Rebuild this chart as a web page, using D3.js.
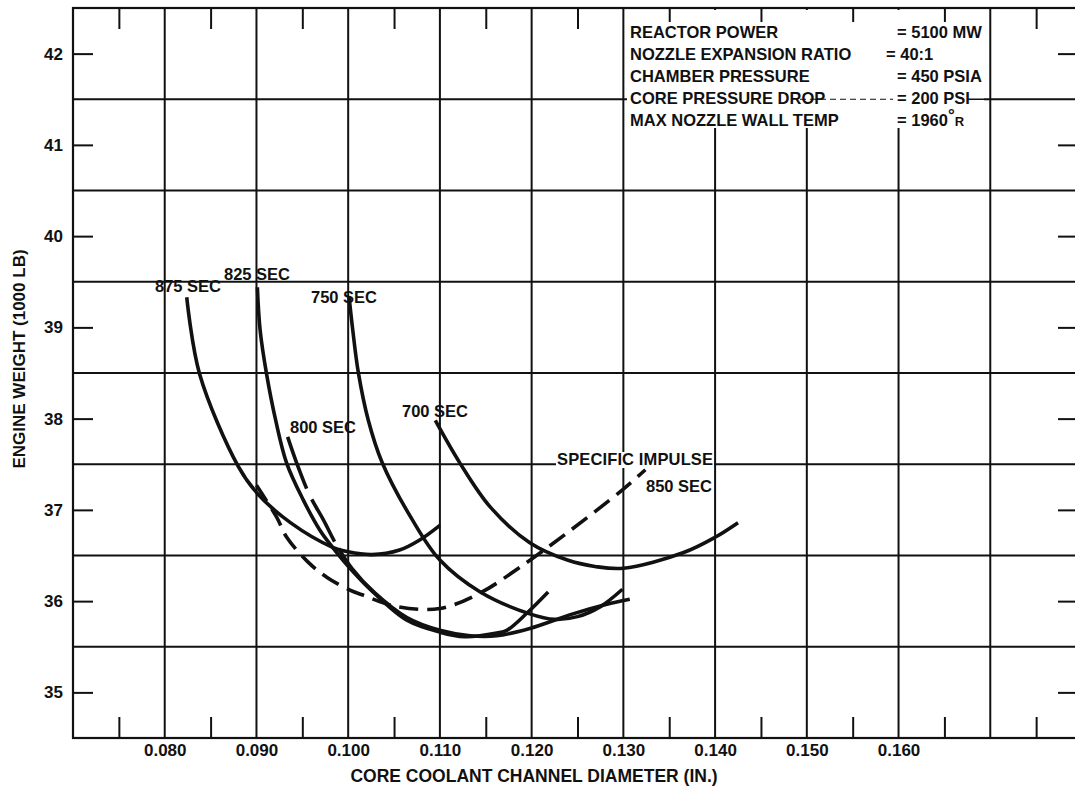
<!DOCTYPE html>
<html>
<head>
<meta charset="utf-8">
<script src="https://cdn.jsdelivr.net/npm/d3@7"></script>
<style>
  html, body { margin: 0; padding: 0; background: #fff; }
  svg { display: block; }
  text { font-family: "Liberation Sans", Arial, sans-serif; fill: #111; font-weight: bold; }
</style>
</head>
<body>
<svg id="chart" width="1075" height="789"></svg>
<script>
// ---- data ----
const xTickValues = [0.080, 0.090, 0.100, 0.110, 0.120, 0.130, 0.140, 0.150, 0.160];
const xTickLabels = ["0.080", "0.090", "0.100", "0.110", "0.120", "0.130", "0.140", "0.150", "0.160"];
const xGridValues = [0.080, 0.090, 0.100, 0.110, 0.120, 0.130, 0.140, 0.150, 0.160, 0.170];
const xMinorTicks = [0.075, 0.085, 0.095, 0.105, 0.115, 0.125, 0.135, 0.145, 0.155, 0.165, 0.175];
const yTickValues = [35, 36, 37, 38, 39, 40, 41, 42];
const yGridValues = [35.5, 36.5, 37.5, 38.5, 39.5, 40.5, 41.5];

// core coolant channel diameter (in.) / engine weight (1000 lb)
const d875 = [0.0824, 0.0838, 0.0880, 0.0901, 0.0937, 0.0983, 0.1000, 0.1026, 0.1056, 0.1078, 0.1100];
const w875 = [39.33, 38.49, 37.48, 37.18, 36.86, 36.59, 36.54, 36.51, 36.56, 36.67, 36.83];

const d825 = [0.0901, 0.0904, 0.0911, 0.0921, 0.0933, 0.0951, 0.0969, 0.0983, 0.1002, 0.1027, 0.1064, 0.1100, 0.1127, 0.1162, 0.1173, 0.1195, 0.1218];
const w825 = [39.44, 38.97, 38.49, 37.98, 37.51, 37.11, 36.78, 36.59, 36.36, 36.10, 35.79, 35.66, 35.61, 35.65, 35.68, 35.87, 36.10];

const d800 = [0.0934, 0.0944, 0.0958, 0.0973, 0.0987, 0.1004, 0.1029, 0.1064, 0.1100, 0.1133, 0.1162, 0.1198, 0.1245, 0.1280, 0.1307];
const w800 = [37.80, 37.51, 37.16, 36.89, 36.62, 36.36, 36.09, 35.82, 35.68, 35.62, 35.62, 35.70, 35.86, 35.96, 36.02];

const d750 = [0.1001, 0.1005, 0.1011, 0.1022, 0.1037, 0.1070, 0.1100, 0.1144, 0.1198, 0.1225, 0.1250, 0.1275, 0.1299];
const w750 = [39.33, 38.97, 38.51, 37.98, 37.52, 36.89, 36.45, 36.10, 35.86, 35.80, 35.83, 35.94, 36.13];

const d700 = [0.1095, 0.1122, 0.1155, 0.1198, 0.1239, 0.1269, 0.1300, 0.1365, 0.1400, 0.1425];
const w700 = [37.98, 37.51, 37.03, 36.64, 36.45, 36.38, 36.36, 36.53, 36.70, 36.86];

const d850 = [0.0900, 0.0922, 0.0933, 0.0956, 0.0977, 0.1002, 0.1015, 0.1053, 0.1100, 0.1144, 0.1187, 0.1239, 0.1299, 0.1324];
const w850 = [37.27, 36.92, 36.70, 36.43, 36.26, 36.12, 36.07, 35.94, 35.92, 36.09, 36.37, 36.75, 37.22, 37.44];

const curveLabels = ["875 SEC", "825 SEC", "750 SEC", "800 SEC", "700 SEC", "SPECIFIC IMPULSE", "850 SEC"];

const notesLeft = ["REACTOR POWER", "NOZZLE EXPANSION RATIO", "CHAMBER PRESSURE", "CORE PRESSURE DROP", "MAX NOZZLE WALL TEMP"];
const notesRight = ["= 5100 MW", "= 40:1", "= 450 PSIA", "= 200 PSI", "= 1960"];

const xTitle = "CORE COOLANT CHANNEL DIAMETER (IN.)";
const yTitle = "ENGINE WEIGHT (1000 LB)";

// ---- drawing ----
const svg = d3.select("#chart");
const x = d3.scaleLinear().domain([0.070, 0.180]).range([73, 1082]);
const y = d3.scaleLinear().domain([34.5, 42.5]).range([738, 8]);
const X0 = x(0.070), X1 = x(0.180), Y0 = y(34.5), Y1 = y(42.5);
const ink = "#111";
const FONT = "Liberation Sans, Arial, sans-serif";

// grid
const g = svg.append("g");
g.selectAll("line.vg").data(xGridValues).join("line")
  .attr("x1", d => x(d)).attr("x2", d => x(d)).attr("y1", Y1).attr("y2", Y0)
  .attr("stroke", ink).attr("stroke-width", 2);
g.selectAll("line.hg").data(yGridValues).join("line")
  .attr("x1", X0).attr("x2", X1).attr("y1", d => y(d)).attr("y2", d => y(d))
  .attr("stroke", ink).attr("stroke-width", 2);

// frame
g.append("rect").attr("x", X0).attr("y", Y1).attr("width", X1 - X0).attr("height", Y0 - Y1)
  .attr("fill", "none").attr("stroke", ink).attr("stroke-width", 2.2);

// axes via d3 axis generators (ticks pointing inward)
const axB = d3.axisBottom(x).tickValues(xTickValues).tickSize(0).tickPadding(6)
  .tickFormat((d, i) => xTickLabels[i]);
const gb = svg.append("g").attr("transform", `translate(0,${Y0})`).call(axB);
gb.select(".domain").remove();
gb.selectAll("text").attr("font-size", 17).attr("fill", ink).attr("font-weight", "bold")
  .attr("font-family", FONT);

const axBm = d3.axisTop(x).tickValues(xMinorTicks).tickSize(21).tickFormat("");
const gbm = svg.append("g").attr("transform", `translate(0,${Y0})`).call(axBm);
gbm.select(".domain").remove();
gbm.selectAll("line").attr("stroke", ink).attr("stroke-width", 2);

const axL = d3.axisRight(y).tickValues(yTickValues).tickSize(20).tickFormat(d3.format("d"));
const gl = svg.append("g").attr("transform", `translate(${X0},0)`).call(axL);
gl.select(".domain").remove();
gl.selectAll("line").attr("stroke", ink).attr("stroke-width", 2);
gl.selectAll("text").attr("x", -10).attr("text-anchor", "end").attr("font-size", 17)
  .attr("fill", ink).attr("font-weight", "bold").attr("font-family", FONT);

const axR = d3.axisLeft(y).tickValues(yTickValues).tickSize(20).tickFormat("");
const gr = svg.append("g").attr("transform", `translate(${X1 - 4},0)`).call(axR);
gr.select(".domain").remove();
gr.selectAll("line").attr("stroke", ink).attr("stroke-width", 2);

// notes box (masks the grid behind)
svg.append("rect").attr("x", 627).attr("y", 10).attr("width", 357).attr("height", 118).attr("fill", "#fff");
svg.append("line").attr("x1", 800).attr("x2", 893).attr("y1", y(41.5)).attr("y2", y(41.5))
  .attr("stroke", ink).attr("stroke-width", 1.2).attr("stroke-dasharray", "6,4");
svg.append("line").attr("x1", 968).attr("x2", 984).attr("y1", y(41.5)).attr("y2", y(41.5))
  .attr("stroke", ink).attr("stroke-width", 1.5);

// top ticks (shorter where they sit above the notes)
const axTm = d3.axisBottom(x).tickValues(xMinorTicks).tickSize(21).tickFormat("");
const gtm = svg.append("g").attr("transform", `translate(0,${Y1})`).call(axTm);
gtm.select(".domain").remove();
gtm.selectAll("line").attr("stroke", ink).attr("stroke-width", 2)
  .attr("y2", d => (d > 0.13 && d < 0.17) ? 14 : 21);

const notes = svg.append("g").attr("font-size", 16.5);
const noteBase = [38, 60, 82, 104, 126];
notesLeft.forEach((t, i) => {
  notes.append("text").attr("x", 630).attr("y", noteBase[i]).text(t);
});
notesRight.forEach((t, i) => {
  const tx = notes.append("text").attr("x", i === 1 ? 886 : 897).attr("y", noteBase[i]).text(t);
  if (i === 4) {
    tx.append("tspan").attr("font-size", 17).attr("dy", -5).text("°");
    tx.append("tspan").attr("font-size", 13).attr("dy", 5).text("R");
  }
});

// curves
const line = d3.line().x(p => x(p[0])).y(p => y(p[1])).curve(d3.curveCatmullRom.alpha(0.5));
const zip = (a, b) => a.map((v, i) => [v, b[i]]);
const series = [
  { pts: zip(d875, w875), dash: null },
  { pts: zip(d825, w825), dash: null },
  { pts: zip(d800, w800), dash: "55,12,48,8,4000" },
  { pts: zip(d750, w750), dash: null },
  { pts: zip(d700, w700), dash: null },
  { pts: zip(d850, w850), dash: "19,9" }
];
svg.append("g").selectAll("path").data(series).join("path")
  .attr("d", s => line(s.pts))
  .attr("fill", "none").attr("stroke", ink).attr("stroke-width", 3.6)
  .attr("stroke-linecap", "butt")
  .attr("stroke-dasharray", s => s.dash);

// curve labels
const labelPos = [
  [155, 292], [224, 280], [311, 303], [290, 433],
  [402, 417], [557, 465], [646, 492]
];
const lg = svg.append("g").attr("font-size", 16.5);
curveLabels.forEach((t, i) => {
  const p = labelPos[i];
  const tx = lg.append("text").attr("x", p[0]).attr("y", p[1]).text(t);
  if (i === 5) tx.attr("textLength", 156);
  if (i === 5) {
    const bb = tx.node().getBBox();
    lg.insert("rect", "text").attr("x", bb.x - 1).attr("y", bb.y + 2).attr("width", bb.width + 2)
      .attr("height", bb.height - 2).attr("fill", "#fff").attr("stroke", "none");
  }
});

// axis titles
svg.append("text").attr("x", 534).attr("y", 782).attr("text-anchor", "middle")
  .attr("font-size", 17.5).text(xTitle);
svg.append("text").attr("transform", "translate(25,359) rotate(-90)").attr("text-anchor", "middle")
  .attr("font-size", 17).text(yTitle);
</script>
</body>
</html>
